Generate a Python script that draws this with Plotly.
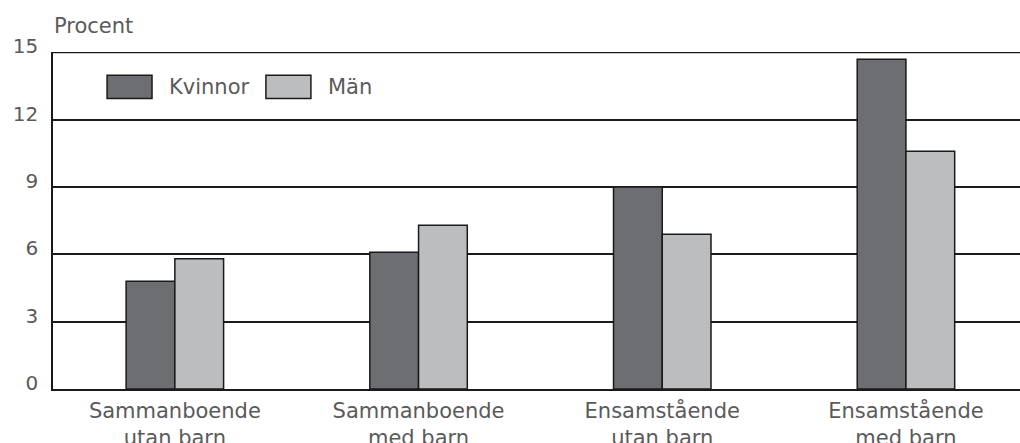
import plotly.graph_objects as go

categories = ["Sammanboende<br>utan barn", "Sammanboende<br>med barn",
              "Ensamstående<br>utan barn", "Ensamstående<br>med barn"]
kvinnor = [4.8, 6.1, 9.0, 14.7]
man = [5.8, 7.3, 6.9, 10.6]
y_ticks = [0, 3, 6, 9, 12, 15]
series_names = ["Kvinnor", "Män"]
colors = ["#6d6e71", "#bcbdbf"]

x_pos = list(range(len(categories)))

fig = go.Figure()
for name, vals, col in zip(series_names, [kvinnor, man], colors):
    fig.add_trace(go.Bar(x=x_pos, y=vals, name=name,
                         marker=dict(color=col, line=dict(color="#1a1a1a", width=1.5)),
                         showlegend=False))

font_fam = "DejaVu Sans, Verdana, sans-serif"
txt_col = "#5a5a5a"

fig.update_layout(
    width=1020, height=443,
    margin=dict(l=53, r=0, t=52, b=54, autoexpand=False),
    paper_bgcolor="white", plot_bgcolor="white",
    barmode="group", bargap=0.6, bargroupgap=0,
    font=dict(family=font_fam, color=txt_col, size=20),
    xaxis=dict(range=[-0.5, 3.468], tickmode="array", tickvals=x_pos, ticktext=categories,
               showgrid=False, showline=True, linecolor="#1a1a1a", linewidth=1.5, automargin=False,
               ticks="", tickfont=dict(size=21, color=txt_col), ticklabelstandoff=2, zeroline=False),
    yaxis=dict(range=[0, 15.02], tickmode="array", tickvals=y_ticks, ticktext=[str(v) for v in y_ticks],
               showgrid=True, gridcolor="#1a1a1a", gridwidth=1.5, showline=True, linecolor="#1a1a1a",
               linewidth=1.5, ticks="", tickfont=dict(size=20, color=txt_col), zeroline=False,
               automargin=False, ticklabelstandoff=9, ticklabelshift=-6),
)

# top gridline at the maximum tick (plotly hides it at the plot edge)
fig.add_shape(type="line", xref="paper", yref="y", x0=0, x1=1, y0=max(y_ticks), y1=max(y_ticks),
              line=dict(color="#1a1a1a", width=1.5), layer="below")

# Legend drawn manually (larger swatches like reference)
legend_x = [0.0559, 0.2202]
for name, col, lx in zip(series_names, colors, legend_x):
    fig.add_shape(type="rect", xref="paper", yref="paper", x0=lx, x1=lx + 0.0465, y0=0.862, y1=0.931,
                  fillcolor=col, line=dict(color="#1a1a1a", width=1.5))
    fig.add_annotation(text=name, xref="paper", yref="paper", x=lx + 0.0625, y=0.8965, xanchor="left",
                       yanchor="middle", showarrow=False, font=dict(size=21, color=txt_col))

fig.add_annotation(text="Procent", xref="paper", yref="paper", x=-0.001, y=1.0, yshift=12,
                   xanchor="left", yanchor="bottom", showarrow=False, font=dict(size=21, color=txt_col))

fig.write_html("out.html", config={"displayModeBar": False},
               post_script="document.body.style.margin='0';document.body.style.overflow='hidden';")
